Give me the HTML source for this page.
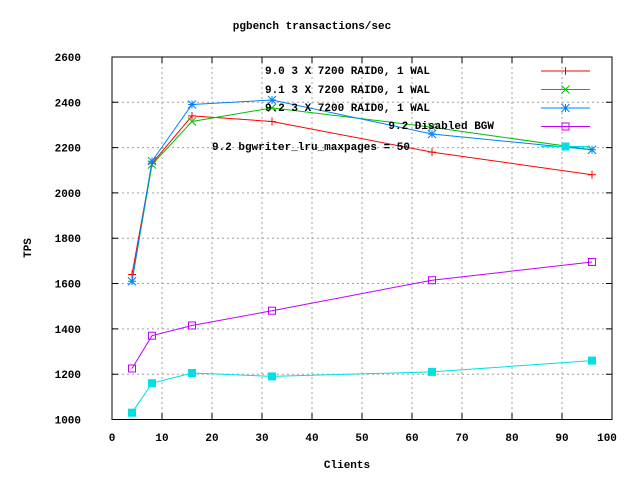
<!DOCTYPE html><html><head><style>body{margin:0;background:#fff}svg text{font-family:"Liberation Mono",monospace;font-weight:bold;font-size:11px}</style></head><body>
<svg width="640" height="480" xmlns="http://www.w3.org/2000/svg">
<defs>
<marker id="mr" markerUnits="userSpaceOnUse" markerWidth="12" markerHeight="12" refX="6" refY="6" overflow="visible"><path d="M2 6H10M6 2V10" stroke="#ff0000" fill="none"/></marker>
<marker id="mg" markerUnits="userSpaceOnUse" markerWidth="12" markerHeight="12" refX="6" refY="6" overflow="visible"><path d="M2 2L10 10M2 10L10 2" stroke="#00c000" fill="none"/></marker>
<marker id="mb" markerUnits="userSpaceOnUse" markerWidth="12" markerHeight="12" refX="6" refY="6" overflow="visible"><path d="M2 6H10M6 2V10M2 2L10 10M2 10L10 2" stroke="#0080ff" fill="none"/></marker>
<marker id="mp" markerUnits="userSpaceOnUse" markerWidth="12" markerHeight="12" refX="6" refY="6" overflow="visible"><rect x="2.5" y="2.5" width="7" height="7" stroke="#c000ff" fill="none"/></marker>
<marker id="mc" markerUnits="userSpaceOnUse" markerWidth="12" markerHeight="12" refX="6" refY="6" overflow="visible"><rect x="2" y="2" width="8" height="8" fill="#00e0e0"/></marker>
</defs>
<g stroke="#a0a0a0" stroke-dasharray="2,3">
<path d="M162 57V419M212 57V419M262 57V419M312 57V419M362 57V419M412 57V419M462 57V419M512 57V419M562 57V419"/>
<path d="M112 374.2H612M112 328.9H612M112 283.5H612M112 238.2H612M112 192.9H612M112 147.6H612M112 102.3H612"/>
</g>
<g stroke="#000">
<path d="M162 419.5V413M212 419.5V413M262 419.5V413M312 419.5V413M362 419.5V413M412 419.5V413M462 419.5V413M512 419.5V413M562 419.5V413"/>
<path d="M162 57V63M212 57V63M262 57V63M312 57V63M362 57V63M412 57V63M462 57V63M512 57V63M562 57V63"/>
<path d="M112 374.2H118M112 328.9H118M112 283.5H118M112 238.2H118M112 192.9H118M112 147.6H118M112 102.3H118"/>
<path d="M612 374.2H606M612 328.9H606M612 283.5H606M612 238.2H606M612 192.9H606M612 147.6H606M612 102.3H606"/>
</g>
<rect x="112" y="57" width="500" height="362.5" fill="none" stroke="#000"/>
<g text-anchor="end">
<text x="81" y="423.5">1000</text><text x="81" y="378.2">1200</text><text x="81" y="332.9">1400</text><text x="81" y="287.5">1600</text><text x="81" y="242.2">1800</text><text x="81" y="196.9">2000</text><text x="81" y="151.6">2200</text><text x="81" y="106.3">2400</text><text x="81" y="61">2600</text>
</g>
<g text-anchor="middle">
<text x="112" y="441">0</text><text x="162" y="441">10</text><text x="212" y="441">20</text><text x="262" y="441">30</text><text x="312" y="441">40</text><text x="362" y="441">50</text><text x="412" y="441">60</text><text x="462" y="441">70</text><text x="512" y="441">80</text><text x="562" y="441">90</text><text x="607" y="441">100</text>
<text x="312" y="29">pgbench transactions/sec</text>
<text x="347" y="468">Clients</text>
<text transform="translate(31,248) rotate(-90)">TPS</text>
</g>
<g fill="none">
<polyline stroke="#ff0000" marker-start="url(#mr)" marker-mid="url(#mr)" marker-end="url(#mr)" points="132,274.5 152,163.4 192,115.9 272,121.5 432,152.1 592,174.8"/>
<polyline stroke="#00c000" marker-start="url(#mg)" marker-mid="url(#mg)" marker-end="url(#mg)" points="132,281.3 152,164.6 192,121.5 272,107.9 432,127.2 592,149.8"/>
<polyline stroke="#0080ff" marker-start="url(#mb)" marker-mid="url(#mb)" marker-end="url(#mb)" points="132,281.3 152,161.2 192,104.5 272,100 432,134 592,149.8"/>
<polyline stroke="#c000ff" marker-start="url(#mp)" marker-mid="url(#mp)" marker-end="url(#mp)" points="132,368.5 152,335.7 192,325.5 272,310.7 432,280.2 592,262"/>
<polyline stroke="#00e0e0" marker-start="url(#mc)" marker-mid="url(#mc)" marker-end="url(#mc)" points="132,412.7 152,383.2 192,373 272,376.4 432,371.9 592,360.6"/>
<polyline stroke="#ff0000" marker-mid="url(#mr)" points="541,71 565.5,71 590,71"/>
<polyline stroke="#00c000" marker-mid="url(#mg)" points="541,89.5 565.5,89.5 590,89.5"/>
<polyline stroke="#0080ff" marker-mid="url(#mb)" points="541,108 565.5,108 590,108"/>
<polyline stroke="#c000ff" marker-mid="url(#mp)" points="541,126.5 565.5,126.5 590,126.5"/>
<polyline stroke="#00e0e0" marker-mid="url(#mc)" points="541,146.5 565.5,146.5 590,146.5"/>
</g>
<g text-anchor="end">
<text x="430" y="74">9.0 3 X 7200 RAID0, 1 WAL</text>
<text x="430" y="93">9.1 3 X 7200 RAID0, 1 WAL</text>
<text x="430" y="111">9.2 3 X 7200 RAID0, 1 WAL</text>
<text x="494" y="129">9.2 Disabled BGW</text>
<text x="410" y="150">9.2 bgwriter_lru_maxpages = 50</text>
</g>
</svg></body></html>
